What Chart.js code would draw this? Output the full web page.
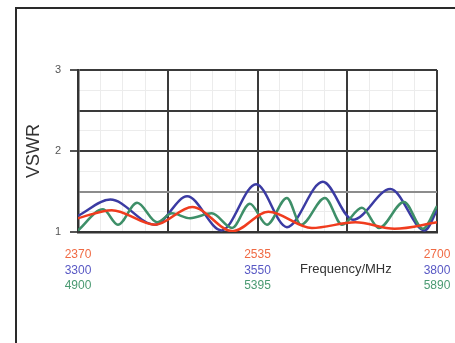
<!DOCTYPE html>
<html>
<head>
<meta charset="utf-8">
<script src="https://cdn.jsdelivr.net/npm/chart.js@4.4.0/dist/chart.umd.min.js"></script>
<style>
    html, body { margin: 0; padding: 0; background: #fff; }
    #wrap { position: relative; width: 455px; height: 343px; overflow: hidden; }
    #frame { position: absolute; left: 15px; top: 7px; width: 520px; height: 420px; border: 2px solid #2a2a2a; }
    canvas { position: absolute; left: 0; top: 0; }
</style>
</head>
<body>
<div id="wrap">
    <div id="frame"></div>
    <canvas id="vswrChart" width="455" height="343"></canvas>
</div>
<script>
// --- Data ---
const redFreq  = [2370, 2401, 2441, 2475, 2512, 2545, 2585, 2625, 2661, 2700];
const redVswr  = [1.17, 1.27, 1.09, 1.31, 1.01, 1.25, 1.05, 1.12, 1.04, 1.12];

const blueFreq = [3300, 3345, 3407, 3452, 3500, 3548, 3591, 3641, 3683, 3735, 3783, 3800];
const blueVswr = [1.20, 1.40, 1.09, 1.44, 1.02, 1.59, 1.06, 1.62, 1.15, 1.53, 1.02, 1.27];

const greenFreq = [4900, 4969, 5010, 5063, 5118, 5159, 5209, 5269, 5325, 5374, 5421, 5476, 5515, 5581, 5628, 5683, 5730, 5799, 5851, 5890];
const greenVswr = [1.02, 1.28, 1.09, 1.36, 1.12, 1.23, 1.17, 1.23, 1.05, 1.35, 1.09, 1.42, 1.09, 1.42, 1.09, 1.30, 1.05, 1.37, 1.04, 1.32];

// band limits (min, middle, max) shown under the plot
const redBand   = [2370, 2535, 2700];
const blueBand  = [3300, 3550, 3800];
const greenBand = [4900, 5395, 5890];
const yTicks = [1, 2, 3];

const RED = '#f03c1e', BLUE = '#3b3ba3', GREEN = '#3e8f68';
const RED_TXT = '#f06a44', BLUE_TXT = '#5858c4', GREEN_TXT = '#4a9a72';

function pts(xs, ys) {
    return xs.map((x, i) => ({ x: x, y: ys[i] }));
}

// x axis for one band: 4 divisions, labels only at min / middle / max
function bandAxis(band, color, height, pad, showGrid) {
    return {
        type: 'linear',
        position: 'bottom',
        min: band[0],
        max: band[2],
        ticks: {
            stepSize: (band[2] - band[0]) / 4,
            autoSkip: false,
            maxRotation: 0,
            padding: pad,
            color: color,
            font: { family: 'Arial, "Liberation Sans", sans-serif', size: 12 },
            callback: function(value, index) { return index % 2 === 0 ? String(band[index / 2]) : ''; }
        },
        grid: { display: showGrid, drawTicks: false, color: '#3a3a3a', lineWidth: 2, z: -1 },
        border: { display: showGrid, color: '#333', width: 2.5 },
        afterFit: function(scale) {
            scale.height = height;
            scale.paddingLeft = 0;
            scale.paddingRight = 0;
        }
    };
}

// Frequency label
const freqLabel = {
    id: 'freqLabel',
    afterDraw: function(chart) {
        const ctx = chart.ctx;
        ctx.save();
        ctx.font = '13px Arial, "Liberation Sans", sans-serif';
        ctx.fillStyle = '#333';
        ctx.textBaseline = 'middle';
        ctx.textAlign = 'left';
        ctx.fillText('Frequency/MHz', 300, 269);
        ctx.restore();
    }
};

Chart.defaults.animation = false;

const ctx = document.getElementById('vswrChart').getContext('2d');
const vswrChart = new Chart(ctx, {
    type: 'line',
    data: {
        datasets: [{
            label: 'red',
            data: pts(redFreq, redVswr),
            xAxisID: 'xr',
            borderColor: RED,
            borderWidth: 2.5,
            pointRadius: 0,
            cubicInterpolationMode: 'monotone',
            order: 1
        }, {
            label: 'blue',
            data: pts(blueFreq, blueVswr),
            xAxisID: 'xb',
            borderColor: BLUE,
            borderWidth: 2.5,
            pointRadius: 0,
            cubicInterpolationMode: 'monotone',
            order: 3
        }, {
            label: 'green',
            data: pts(greenFreq, greenVswr),
            xAxisID: 'xg',
            borderColor: GREEN,
            borderWidth: 2.5,
            pointRadius: 0,
            cubicInterpolationMode: 'monotone',
            order: 2
        }]
    },
    options: {
        responsive: false,
        layout: { padding: { left: 16, top: 70, right: 18, bottom: 51 } },
        plugins: {
            legend: { display: false },
            tooltip: { enabled: false }
        },
        scales: {
            xr: bandAxis(redBand, RED_TXT, 30, 15, true),
            xb: bandAxis(blueBand, BLUE_TXT, 15, 1, false),
            xg: bandAxis(greenBand, GREEN_TXT, 15, 1, false),
            // minor dotted grid
            xm: {
                type: 'linear',
                position: 'bottom',
                min: redBand[0],
                max: redBand[2],
                ticks: { display: false, stepSize: (redBand[2] - redBand[0]) / 16 },
                grid: { drawTicks: false, color: '#ececec', lineWidth: 1, borderDash: [1, 3], z: -2 },
                border: { display: false },
                afterFit: function(scale) {
                    scale.height = 0;
                    scale.paddingLeft = 0;
                    scale.paddingRight = 0;
                }
            },
            ym: {
                type: 'linear',
                position: 'left',
                min: 1,
                max: 3,
                ticks: { display: false, stepSize: 0.25 },
                grid: { drawTicks: false, color: '#ececec', lineWidth: 1, borderDash: [1, 3], z: -2 },
                border: { display: false },
                afterFit: function(scale) { scale.width = 0; }
            },
            y: {
                type: 'linear',
                position: 'left',
                min: 1,
                max: 3,
                ticks: {
                    stepSize: 0.5,
                    padding: 9,
                    color: '#555',
                    font: { family: 'Arial, "Liberation Sans", sans-serif', size: 11 },
                    callback: function(value) { return yTicks.includes(value) ? String(value) : ''; }
                },
                grid: {
                    lineWidth: 2,
                    tickLength: 8,
                    z: -1,
                    color: function(c) { return c.tick && c.tick.value === 1.5 ? '#8c8c8c' : '#3a3a3a'; },
                    tickColor: function(c) { return c.tick && yTicks.includes(c.tick.value) ? '#555' : 'rgba(0,0,0,0)'; }
                },
                border: { color: '#333', width: 2.5 },
                title: {
                    display: true,
                    text: 'VSWR',
                    color: '#333',
                    padding: { top: 7, bottom: 0 },
                    font: { family: 'Arial, "Liberation Sans", sans-serif', size: 18 }
                },
                afterFit: function(scale) { scale.width = 62; }
            }
        }
    },
    plugins: [freqLabel]
});
</script>
</body>
</html>
